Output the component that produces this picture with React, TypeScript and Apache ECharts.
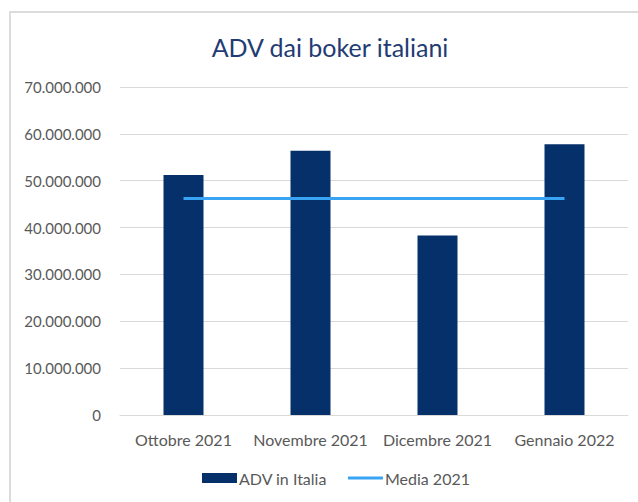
import React, { useEffect, useRef } from "react";
import * as echarts from "echarts";

const categories = ["Ottobre 2021", "Novembre 2021", "Dicembre 2021", "Gennaio 2022"];
const advValues = [51200000, 56400000, 38300000, 57800000];
const mediaValues = [46200000, 46200000, 46200000, 46200000];
const titleText = "ADV dai boker italiani";
const seriesNames = ["ADV in Italia", "Media 2021"];

const fmt = (v: number) => String(Math.round(v)).replace(/\B(?=(\d{3})+(?!\d))/g, ".");

export default function App() {
  const ref = useRef<HTMLDivElement>(null);
  useEffect(() => {
    if (!ref.current) return;
    const chart = echarts.init(ref.current, null, { renderer: "svg" });
    const font = "Lato, 'Noto Sans', sans-serif";
    chart.setOption({
      animation: false,
      backgroundColor: "#ffffff",
      textStyle: { fontFamily: font },
      graphic: [
        {
          type: "rect",
          shape: { x: 10, y: 12, width: 700, height: 600 },
          style: { fill: "none", stroke: "#dcdcdc", lineWidth: 2 },
          silent: true,
        },
        {
          type: "text",
          x: 330,
          y: 47,
          style: {
            text: titleText,
            fontSize: 25,
            fontFamily: font,
            fill: "#1f3c74",
            textAlign: "center",
            textVerticalAlign: "middle",
          },
        },
      ],
      grid: { left: 120, right: 10, top: 87, bottom: 87, containLabel: false },
      legend: {
        bottom: 11,
        left: 197,
        itemWidth: 35,
        itemHeight: 10,
        itemGap: 21,
        textStyle: { fontSize: 16, color: "#595959", fontFamily: font, padding: [0, 0, 0, -3] },
        data: [
          { name: seriesNames[0], icon: "rect" },
          { name: seriesNames[1], icon: "path://M0,0H35V3H0Z" },
        ],
      },
      xAxis: {
        type: "category",
        data: categories,
        axisLine: { show: true, lineStyle: { color: "#d9d9d9", width: 1 } },
        axisTick: { show: false },
        axisLabel: { color: "#595959", fontSize: 16, margin: 16, interval: 0 },
      },
      yAxis: {
        type: "value",
        min: 0,
        max: 70000000,
        interval: 10000000,
        axisLine: { show: false },
        axisTick: { show: false },
        splitLine: { lineStyle: { color: "#d9d9d9", width: 1 } },
        axisLabel: { color: "#595959", fontSize: 15, margin: 19, formatter: (v: number) => fmt(v) },
      },
      series: [
        {
          name: seriesNames[0],
          type: "bar",
          data: advValues,
          barWidth: 40,
          itemStyle: { color: "#06306a" },
        },
        {
          name: seriesNames[1],
          type: "line",
          data: mediaValues,
          symbol: "none",
          lineStyle: { color: "#3aa4f4", width: 3 },
          itemStyle: { color: "#3aa4f4" },
        },
      ],
    });
    return () => chart.dispose();
  }, []);
  return (
    <div
      ref={ref}
      style={{ position: "absolute", left: 0, top: 0, width: 638, height: 502 }}
    />
  );
}
